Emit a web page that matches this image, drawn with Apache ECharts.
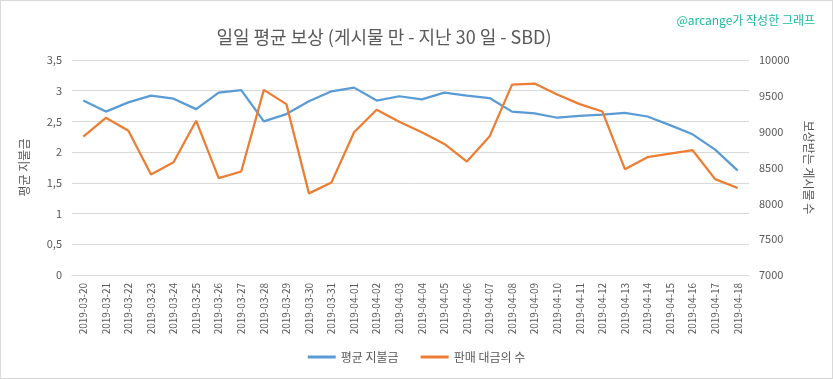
<!DOCTYPE html>
<html><head><meta charset="utf-8">
<script src="https://cdn.jsdelivr.net/npm/echarts@6/dist/echarts.min.js"></script>
<style>html,body{margin:0;padding:0;background:#fff}#c{width:831px;height:377px;border:1px solid #d9d9d9}</style>
</head><body><div id="c"></div>
<script>
const categories = ["2019-03-20","2019-03-21","2019-03-22","2019-03-23","2019-03-24","2019-03-25","2019-03-26","2019-03-27","2019-03-28","2019-03-29","2019-03-30","2019-03-31","2019-04-01","2019-04-02","2019-04-03","2019-04-04","2019-04-05","2019-04-06","2019-04-07","2019-04-08","2019-04-09","2019-04-10","2019-04-11","2019-04-12","2019-04-13","2019-04-14","2019-04-15","2019-04-16","2019-04-17","2019-04-18"];
const avgPayout = [2.84,2.66,2.81,2.92,2.87,2.70,2.97,3.01,2.50,2.62,2.83,2.99,3.05,2.84,2.91,2.86,2.97,2.92,2.88,2.66,2.63,2.56,2.59,2.61,2.64,2.58,2.44,2.29,2.04,1.70];
const postCount = [8931,9194,9014,8403,8574,9153,8352,8444,9583,9384,8139,8292,8991,9306,9139,8991,8829,8583,8931,9657,9671,9518,9384,9282,8477,8644,8694,8741,8338,8213];
const seriesNames = ["평균 지불금","판매 대금의 수"];
const titleText = "일일 평균 보상 (게시물 만 - 지난 30 일 - SBD)";
const creditText = "@arcange가 작성한 그래프";
const leftAxisName = "평균 지불금";
const rightAxisName = "보상받는 게시물 수";

const font = "'Noto Sans CJK KR', 'Noto Sans', sans-serif";
const chart = echarts.init(document.getElementById('c'));
chart.setOption({
  animation:false,
  textStyle:{fontFamily:font},
  title:[{text:titleText,left:378,top:22,textAlign:'center',textStyle:{fontSize:18,fontWeight:'normal',color:'#595959',fontFamily:font}},
         {text:creditText,right:12,top:8,textStyle:{fontSize:12,fontWeight:'normal',color:'#1abc9c',fontFamily:font}}],
  legend:{bottom:10,left:'center',itemWidth:28,itemHeight:3,itemGap:22,icon:'rect',
    textStyle:{fontSize:12,color:'#595959'},data:seriesNames},
  grid:{left:71,right:83,top:59,bottom:103},
  xAxis:{type:'category',data:categories,boundaryGap:true,
    axisLine:{lineStyle:{color:'#d9d9d9'}},axisTick:{show:false},
    axisLabel:{rotate:90,fontSize:10,color:'#595959',margin:8,interval:0}},
  yAxis:[{type:'value',min:0,max:3.5,interval:0.5,name:leftAxisName,nameLocation:'middle',nameGap:42,nameRotate:90,
      nameTextStyle:{fontSize:12,color:'#595959'},
      axisLine:{show:false},axisTick:{show:false},
      splitLine:{lineStyle:{color:'#d9d9d9'}},
      axisLabel:{fontSize:11,color:'#595959',margin:10,formatter:v=>String(v).replace('.',',')}},
    {type:'value',min:7000,max:10000,interval:500,position:'right',name:rightAxisName,nameLocation:'middle',nameGap:54,nameRotate:-90,
      nameTextStyle:{fontSize:12,color:'#595959'},
      axisLine:{show:false},axisTick:{show:false},splitLine:{show:false},
      axisLabel:{fontSize:11,color:'#595959',margin:10,formatter:v=>String(v)}}],
  series:[{name:seriesNames[0],type:'line',data:avgPayout,yAxisIndex:0,showSymbol:false,symbol:'none',
      lineStyle:{width:2.25,color:'#5b9bd5'},itemStyle:{color:'#5b9bd5'}},
    {name:seriesNames[1],type:'line',data:postCount,yAxisIndex:1,showSymbol:false,symbol:'none',
      lineStyle:{width:2.25,color:'#ed7d31'},itemStyle:{color:'#ed7d31'}}]
});
</script></body></html>
